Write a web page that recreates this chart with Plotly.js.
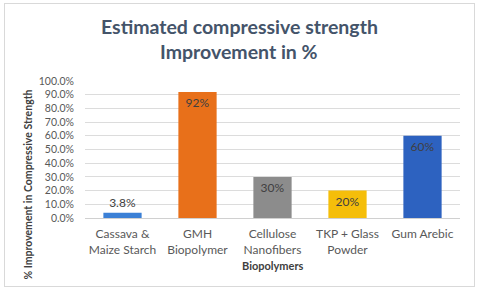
<!DOCTYPE html>
<html>
<head>
<meta charset="utf-8">
<script src="https://cdn.plot.ly/plotly-3.0.1.min.js"></script>
<style>
html,body{margin:0;padding:0;background:#fff;}
#wrap{position:relative;width:480px;height:291px;}
#chart{width:480px;height:291px;}
#frame{position:absolute;left:4px;top:3px;width:469px;height:282px;border:1px solid #d9d9d9;pointer-events:none;}
</style>
</head>
<body>
<div id="wrap"><div id="chart"></div><div id="frame"></div></div>
<script>
const categories = ["Cassava &<br>Maize Starch", "GMH<br>Biopolymer", "Cellulose<br>Nanofibers", "TKP + Glass<br>Powder", "Gum Arebic"];
const improvement = [0.038, 0.92, 0.30, 0.20, 0.60];
const valueLabels = ["3.8%", "92%", "30%", "20%", "60%"];
const barColors = ["#3b80d6", "#e8701a", "#8c8c8c", "#f5be0a", "#2d62c0"];
const labelPositions = ["outside", "inside", "inside", "inside", "inside"];
const chartTitleLines = ["Estimated compressive strength", "Improvement in %"];
const xTitle = "Biopolymers";
const yTitle = "% Improvement in Compressive Strength";

const font = "Lato, 'Open Sans', sans-serif";

Plotly.newPlot("chart", [{
  type: "bar",
  x: categories,
  y: improvement,
  text: valueLabels,
  textposition: labelPositions,
  insidetextanchor: "end",
  textangle: 0,
  textfont: {family: font, size: 12, color: "#404040"},
  insidetextfont: {family: font, size: 12, color: "#404040"},
  outsidetextfont: {family: font, size: 12, color: "#404040"},
  marker: {color: barColors, line: {width: 0}},
  width: 0.51,
  cliponaxis: false,
  hoverinfo: "none"
}], {
  width: 480, height: 291,
  margin: {l: 85, r: 20, t: 81, b: 73},
  paper_bgcolor: "#fff", plot_bgcolor: "#fff",
  showlegend: false,
  xaxis: {
    type: "category",
    tickfont: {family: font, size: 12, color: "#595959"},
    ticks: "", showgrid: false, showline: false, zeroline: false,
    ticklabelstandoff: 7,
    automargin: false
  },
  yaxis: {
    range: [0, 1.0],
    dtick: 0.1,
    tickformat: ".1%",
    tickfont: {family: font, size: 10.5, color: "#595959"},
    gridcolor: "#dcdcdc", gridwidth: 1,
    zeroline: true, zerolinecolor: "#d0d0d0",
    showline: false, ticks: "",
    ticklabelstandoff: 10,
    automargin: false
  },
  bargap: 0.49,
  annotations: [
    {text: "<b>" + chartTitleLines[0] + "</b>", xref: "paper", yref: "paper", x: 0.411, y: 1.401,
     xanchor: "center", yanchor: "middle", showarrow: false,
     font: {family: font, size: 19.5, color: "#44546a"}},
    {text: "<b>" + chartTitleLines[1] + "</b>", xref: "paper", yref: "paper", x: 0.411, y: 1.212,
     xanchor: "center", yanchor: "middle", showarrow: false,
     font: {family: font, size: 19.5, color: "#44546a"}},
    {text: "<b>" + xTitle + "</b>", xref: "paper", yref: "paper", x: 0.501, y: -0.35,
     xanchor: "center", yanchor: "middle", showarrow: false,
     font: {family: font, size: 11, color: "#404040"}},
    {text: "<b>" + yTitle + "</b>", xref: "paper", yref: "paper", x: -0.152, y: 0.245,
     xanchor: "center", yanchor: "middle", showarrow: false, textangle: -90,
     font: {family: font, size: 10.5, color: "#404040"}}
  ]
}, {displayModeBar: false, staticPlot: true});
</script>
</body>
</html>
